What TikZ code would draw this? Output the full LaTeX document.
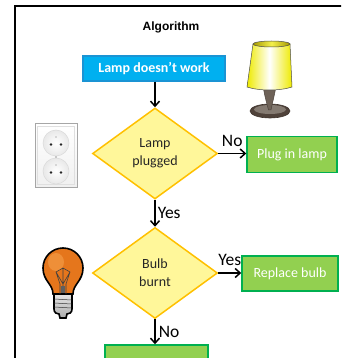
\documentclass[tikz,border=0pt]{standalone}
\usepackage{fontspec}
\setmainfont{Carlito}
\newfontfamily\headfont{Liberation Sans}
\usetikzlibrary{shapes.geometric,arrows.meta}

\definecolor{startblue}{HTML}{00B0F0}
\definecolor{startedge}{HTML}{1A94D4}
\definecolor{decfill}{HTML}{FFF79A}
\definecolor{decedge}{HTML}{FFC000}
\definecolor{actfill}{HTML}{92D050}
\definecolor{actedge}{HTML}{00B050}
\definecolor{shadeyellow}{HTML}{EEEA00}
\definecolor{shadeolive}{HTML}{A89A00}
\definecolor{lampbrown}{HTML}{6E6258}
\definecolor{basebrown}{HTML}{4F423A}
\definecolor{bulborange}{HTML}{E5761C}
\definecolor{bulblight}{HTML}{F29A45}

\begin{document}
\begin{tikzpicture}[x=1pt,y=-1pt,
  startbox/.style={draw=startedge, fill=startblue, line width=1.2pt, text=white,
    font=\bfseries\fontsize{14}{16}\selectfont, minimum width=142pt,
    minimum height=25pt, inner sep=0pt},
  decision/.style={diamond, draw=decedge, fill=decfill, line width=1.5pt,
    minimum width=125pt, minimum height=91pt, inner sep=0pt, align=center,
    font=\fontsize{14}{18}\selectfont, text=black!85},
  action/.style={draw=actedge, fill=actfill, line width=1.5pt, text=white,
    font=\fontsize{14}{16}\selectfont, inner sep=0pt},
  flow/.style={line width=1.5pt, -{Straight Barb[length=5pt,width=9pt]}},
  lbl/.style={font=\fontsize{17.5}{20}\selectfont, inner sep=0pt},
  outline/.style={line width=1.6pt, draw=black}
]
\useasboundingbox (0,0) rectangle (341,358);
\clip (0,0) rectangle (341,358);

% page frame
\draw[line width=2pt] (15,370) -- (15,6) -- (350,6);

% heading
\node[font=\headfont\bfseries\fontsize{12}{14}\selectfont] (title) at (171,27) {Algorithm};

% flowchart
\node[startbox] (start) at (154,68.5) {Lamp doesn’t work};
\node[decision] (plugged) at (155,153.5) {Lamp\\plugged};
\node[action, minimum width=90pt, minimum height=36pt] (pluglamp) at (292,154.5) {Plug in lamp};
\node[decision] (burnt) at (155,273) {Bulb\\burnt};
\node[action, minimum width=96pt, minimum height=35pt] (replace) at (290,273.5) {Replace bulb};
\node[action, minimum width=103pt, minimum height=30pt] (next) at (156.5,360) {};

\draw[flow] (start.south -| plugged.north) -- (plugged.north);
\draw[flow] (plugged.east) -- node[lbl, above=6pt] {No} (plugged.east -| pluglamp.west);
\draw[flow] (plugged.south) -- node[lbl, right=2pt] {Yes} (burnt.north);
\draw[flow] (burnt.east) -- node[lbl, above=7pt] {Yes} (burnt.east -| replace.west);
\draw[flow] (burnt.south) -- node[lbl, right=3pt] {No} (burnt.south |- next.north);

% table lamp
\draw[basebrown!80!black, line width=0.6pt, fill=basebrown] (270,111) ellipse [x radius=20, y radius=7];
\fill[lampbrown!85!white] (270,109.5) ellipse [x radius=16, y radius=4.5];
\draw[lampbrown!70!black, line width=0.5pt, fill=lampbrown]
  (263,86) -- (276,86) .. controls (274,98) and (272,104) .. (271,110)
  -- (268.5,110) .. controls (267,104) and (265,98) .. (263,86) -- cycle;
\shade[left color=shadeyellow, right color=shadeyellow, middle color=white]
  (253,44) -- (290,44) -- (292,87) .. controls (280,91) and (259,91) .. (247,87) -- cycle;
\draw[gray!60!black, line width=0.5pt]
  (253,44) -- (290,44) -- (292,87) .. controls (280,91) and (259,91) .. (247,87) -- cycle;
\shade[left color=shadeolive, right color=shadeolive, middle color=shadeyellow!70!white,
  draw=gray!60!black, line width=0.5pt]
  (271.5,44) ellipse [x radius=18.5, y radius=3];

% wall socket
\shade[top color=white, bottom color=gray!12, draw=gray!70, line width=1pt]
  (35,124) rectangle (77,187);
\draw[gray!25, line width=0.6pt] (37.5,126.5) rectangle (74.5,184.5);
\foreach \cy in {143,171} {
  \shade[inner color=white, outer color=gray!18, draw=gray!30, line width=0.5pt]
    (56,\cy) circle [radius=13];
  \fill[black!85] (51,\cy+1.5) circle [radius=1.4];
  \fill[black!85] (61,\cy+1.5) circle [radius=1.4];
  \fill[gray!55] (56,\cy-6) circle [radius=0.9];
}
\fill[gray!55] (56,157) circle [radius=1.1];

% light bulb
\shade[top color=gray!20, bottom color=gray!65, outline]
  (54,294) -- (72,294) -- (72,309) .. controls (72,313) and (69,314) .. (67,314)
  -- (66,318) -- (60,318) -- (59,314) .. controls (57,314) and (54,313) .. (54,309) -- cycle;
\foreach \ty in {299,303,307} \draw[gray!45!black, line width=0.5pt] (54.5,\ty) -- (71.5,\ty+1);
\filldraw[fill=bulborange, outline]
  (53,294) .. controls (53,284) and (43,281) .. (43,268)
  arc [start angle=180, end angle=360, radius=20]
  .. controls (83,281) and (73,284) .. (73,294) -- cycle;
\fill[bulblight, opacity=0.7] (56,262) ellipse [x radius=8, y radius=9];
\draw[black!75, line width=0.6pt]
  (60,294) -- (60,284) -- (56,272) -- (63,268) -- (70,272) -- (66,284) -- (66,294)
  (56,272) -- (63,284) -- (70,272) (63,268) -- (63,290);
\fill[gray!75!black] (61,286) rectangle (65,293);
\end{tikzpicture}
\end{document}
